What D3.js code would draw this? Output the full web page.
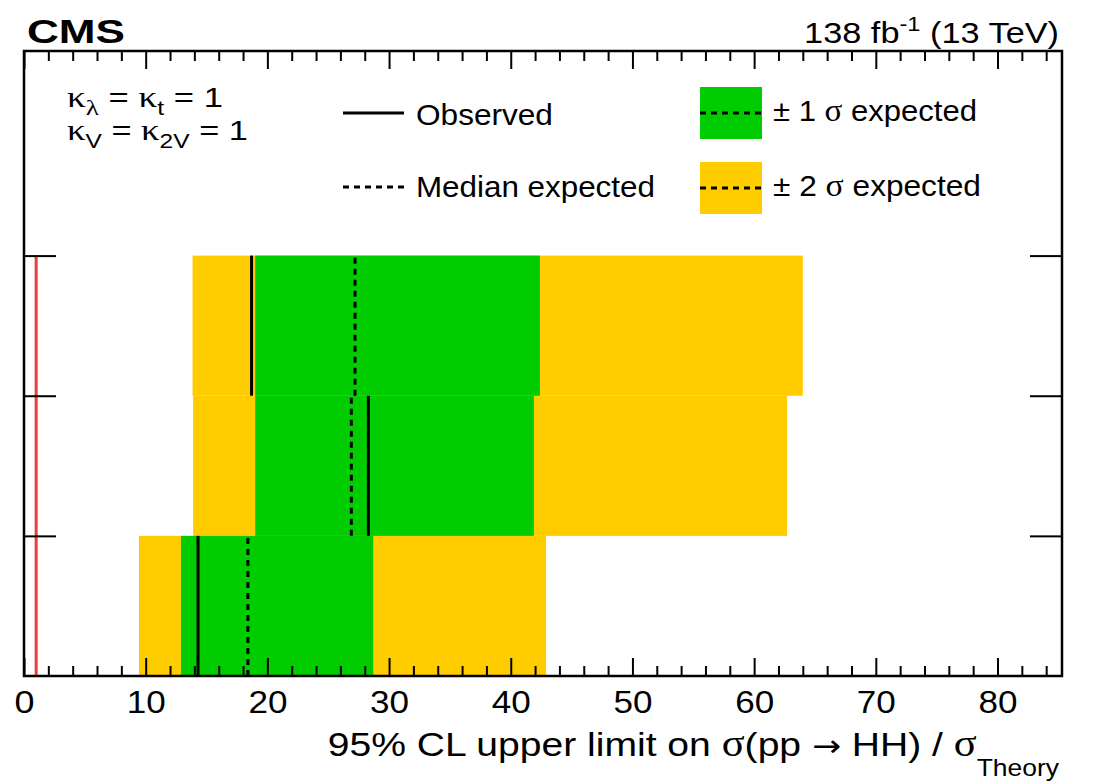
<!DOCTYPE html>
<html lang="en">
<head>
<meta charset="UTF-8">
<title>HH limits</title>
<script src="https://d3js.org/d3.v7.min.js"></script>
<style>
  body { margin: 0; background: #fff; }
  text { font-family: "Liberation Sans", Arial, Helvetica, sans-serif; fill: #000; }
  .gr { font-family: "Liberation Serif", "DejaVu Serif", serif; }
</style>
</head>
<body>
<div id="chart"></div>
<script>
// rows, bottom to top
const rows = [0, 1, 2];
const observed = [14.3, 28.3, 18.7];
const expected = [18.4, 26.9, 27.2];
const lo1 = [12.9, 19.0, 19.0];
const hi1 = [28.7, 41.9, 42.4];
const lo2 = [9.45, 13.9, 13.85];
const hi2 = [42.9, 62.7, 64.0];
const theoryLine = 1;
const xTicks = [0, 10, 20, 30, 40, 50, 60, 70, 80];

const W = 1093, H = 783;
const mLeft = 24, mRight = 1062, mTop = 51, mBottom = 676;
const green = "#00cc00", yellow = "#ffcc00";

const svg = d3.select("#chart").append("svg")
    .attr("width", W).attr("height", H);

const x = d3.scaleLinear().domain([0, 85.3]).range([mLeft, mRight]);
const y = d3.scaleLinear().domain([0, 4.46]).range([mBottom, mTop]);

// stretch a text horizontally to the width it has in the plot
function fit(sel, w, ax) {
    const bb = sel.node().getBBox();
    const s = w / bb.width;
    sel.attr("transform", `translate(${ax},0) scale(${s},1) translate(${-ax},0)`);
}

// bands
const g = svg.append("g");
g.selectAll("rect.y2").data(rows).enter().append("rect")
    .attr("x", i => x(lo2[i])).attr("width", i => x(hi2[i]) - x(lo2[i]))
    .attr("y", i => y(i + 1)).attr("height", i => y(i) - y(i + 1))
    .attr("fill", yellow);
g.selectAll("rect.g1").data(rows).enter().append("rect")
    .attr("x", i => x(lo1[i])).attr("width", i => x(hi1[i]) - x(lo1[i]))
    .attr("y", i => y(i + 1)).attr("height", i => y(i) - y(i + 1))
    .attr("fill", green);

// expected (dashed) and observed (solid)
g.selectAll("line.exp").data(rows).enter().append("line")
    .attr("x1", i => x(expected[i])).attr("x2", i => x(expected[i]))
    .attr("y1", i => y(i)).attr("y2", i => y(i + 1))
    .attr("stroke", "#000").attr("stroke-width", 3).attr("stroke-dasharray", "6,5");
g.selectAll("line.obs").data(rows).enter().append("line")
    .attr("x1", i => x(observed[i])).attr("x2", i => x(observed[i]))
    .attr("y1", i => y(i)).attr("y2", i => y(i + 1))
    .attr("stroke", "#000").attr("stroke-width", 3);

// theory reference line
g.append("line")
    .attr("x1", x(theoryLine)).attr("x2", x(theoryLine))
    .attr("y1", y(0)).attr("y2", y(rows.length))
    .attr("stroke", "#ee3b3b").attr("stroke-width", 3);

// axes
const minor = d3.range(0, 85.3, 2).filter(v => v % 10 !== 0);
function xAxis(sel, isTop) {
    const mk = () => isTop ? d3.axisTop(x) : d3.axisBottom(x);
    sel.call(mk().tickValues(xTicks).tickSize(-18).tickPadding(14)
        .tickFormat(isTop ? () => "" : d3.format("d")));
    sel.append("g").call(mk().tickValues(minor).tickSize(-10).tickFormat(() => ""));
    sel.selectAll(".domain").remove();
    sel.selectAll("line").attr("stroke", "#000").attr("stroke-width", 2);
    if (!isTop) {
        sel.selectAll(".tick text").attr("font-size", 32).attr("fill", "#000")
            .attr("font-family", "'Liberation Sans', Arial, sans-serif")
            .each(function (d) { fit(d3.select(this), d >= 10 ? 39 : 20, 0); });
    }
}
svg.append("g").attr("transform", `translate(0,${mBottom})`).call(s => xAxis(s, false));
svg.append("g").attr("transform", `translate(0,${mTop})`).call(s => xAxis(s, true));

const yTickVals = [1, 2, 3];
[[d3.axisLeft, mRight], [d3.axisRight, mLeft]].forEach(([axf, pos]) => {
    const a = svg.append("g").attr("transform", `translate(${pos},0)`)
        .call(axf(y).tickValues(yTickVals).tickSize(32).tickFormat(() => ""));
    a.selectAll(".domain").remove();
    a.selectAll("line").attr("stroke", "#000").attr("stroke-width", 2);
});

// frame
svg.append("rect").attr("x", mLeft).attr("y", mTop)
    .attr("width", mRight - mLeft).attr("height", mBottom - mTop)
    .attr("fill", "none").attr("stroke", "#000").attr("stroke-width", 2.5);

// header
const cms = svg.append("text").attr("x", 27).attr("y", 43)
    .attr("font-size", 34).attr("font-weight", "bold").text("CMS");
fit(cms, 98, 27);
const lumi = svg.append("text").attr("x", 1059).attr("y", 43)
    .attr("font-size", 29).attr("text-anchor", "end");
lumi.append("tspan").text("138 fb");
lumi.append("tspan").attr("font-size", 20).attr("dy", -12).text("-1");
lumi.append("tspan").attr("dy", 12).text(" (13 TeV)");
fit(lumi, 255, 1059);

// kappa text
function kappaLine(yb, parts, w) {
    const t = svg.append("text").attr("x", 67).attr("y", yb).attr("font-size", 28);
    let shifted = false;
    parts.forEach(([s, sub, gr]) => {
        const ts = t.append("tspan").text(s);
        if (gr) ts.attr("class", "gr").attr("font-size", sub ? 22 : 30);
        if (sub) { if (!gr) ts.attr("font-size", 20); ts.attr("dy", 8); shifted = true; }
        else if (shifted) { ts.attr("dy", -8); shifted = false; }
    });
    fit(t, w, 67);
}
kappaLine(107, [["κ", 0, 1], ["λ", 1, 1], [" = "], ["κ", 0, 1], ["t", 1], [" = 1"]], 156);
kappaLine(140, [["κ", 0, 1], ["V", 1], [" = "], ["κ", 0, 1], ["2V", 1], [" = 1"]], 181);

// legend
const legend = svg.append("g");
legend.append("line").attr("x1", 343).attr("x2", 404).attr("y1", 113).attr("y2", 113)
    .attr("stroke", "#000").attr("stroke-width", 3);
legend.append("line").attr("x1", 343).attr("x2", 404).attr("y1", 187).attr("y2", 187)
    .attr("stroke", "#000").attr("stroke-width", 3).attr("stroke-dasharray", "6,5");
fit(legend.append("text").attr("x", 416).attr("y", 125).attr("font-size", 29).text("Observed"), 137, 416);
fit(legend.append("text").attr("x", 416).attr("y", 197).attr("font-size", 29).text("Median expected"), 239, 416);

[[green, 87, 121, "1", 204], [yellow, 162, 196, "2", 208]].forEach(([c, yt, yb, n, w]) => {
    legend.append("rect").attr("x", 700).attr("y", yt).attr("width", 62).attr("height", 52).attr("fill", c);
    legend.append("line").attr("x1", 700).attr("x2", 762).attr("y1", yt + 26).attr("y2", yt + 26)
        .attr("stroke", "#000").attr("stroke-width", 3).attr("stroke-dasharray", "6,5");
    const t = legend.append("text").attr("x", 773).attr("y", yb).attr("font-size", 29);
    t.append("tspan").text("± " + n + " ");
    t.append("tspan").attr("class", "gr").attr("font-size", 31).text("σ");
    t.append("tspan").text(" expected");
    fit(t, w, 773);
});

// x title
const xt = svg.append("text").attr("x", 1059).attr("y", 756)
    .attr("font-size", 34).attr("text-anchor", "end");
xt.append("tspan").text("95% CL upper limit on ");
xt.append("tspan").attr("class", "gr").attr("font-size", 37).text("σ");
xt.append("tspan").text("(pp ");
xt.append("tspan").attr("font-family", "'DejaVu Sans', sans-serif").attr("font-size", 30).text("→");
xt.append("tspan").text(" HH) / ");
xt.append("tspan").attr("class", "gr").attr("font-size", 37).text("σ");
xt.append("tspan").attr("font-size", 23).attr("dy", 20).text("Theory");
fit(xt, 732, 1059);
</script>
</body>
</html>
